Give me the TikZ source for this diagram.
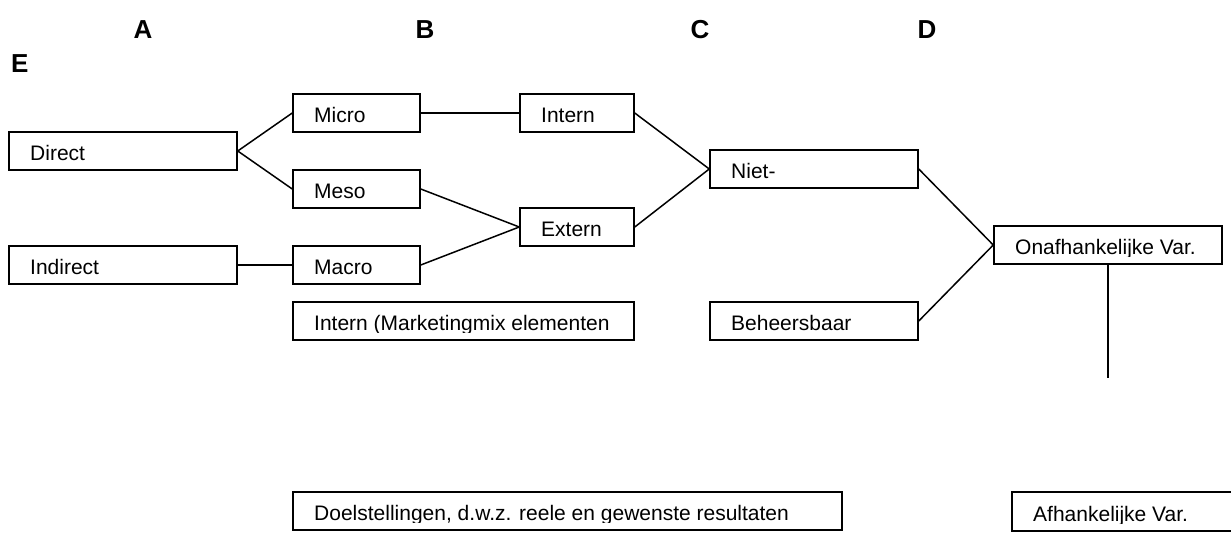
\documentclass[tikz,border=0pt]{standalone}
\usepackage{fontspec}
\setmainfont{Liberation Sans}
\tikzset{
  box/.style={draw, line width=1.5pt, rectangle, inner sep=0pt},
  lbl/.style={anchor=base west, inner sep=0pt, font=\fontsize{21}{25}\selectfont},
  ttl/.style={anchor=base, inner sep=0pt, font=\fontsize{26}{30}\selectfont\bfseries},
  con/.style={line width=1.5pt}
}
\newcommand\bx[6]{%
  \node[box, minimum width={#4-#2}, minimum height={#5-#3}] (#1) at ({(#2+#4)/2},{(#3+#5)/2}) {};
  \begin{scope}
    \clip (#2,#3) rectangle (#4,#5-8);
    \node[lbl] (#1-t) at (#2+21,#5-9.5) {#6};
  \end{scope}%
}
\begin{document}
\begin{tikzpicture}[x=1pt,y=-1pt]
\useasboundingbox (0,0) rectangle (1231,538);
% column letters
\node[ttl] (tA) at (143,38) {A};
\node[ttl] (tB) at (425,38) {B};
\node[ttl] (tC) at (700,38) {C};
\node[ttl] (tD) at (927,38) {D};
\node[ttl, anchor=base west] (tE) at (11,72) {E};
% boxes
\bx{direct}{9}{132}{237}{170}{Direct}
\bx{indirect}{9}{246}{237}{284}{Indirect}
\bx{micro}{293}{94}{420}{132}{Micro}
\bx{meso}{293}{170}{420}{208}{Meso}
\bx{macro}{293}{246}{420}{284}{Macro}
\bx{intern}{520}{94}{634}{132}{Intern}
\bx{extern}{520}{208}{634}{246}{Extern}
\bx{mix}{293}{302}{634}{340}{Intern (Marketingmix elementen}
\bx{niet}{710}{150}{918}{188}{Niet-}
\bx{beh}{710}{302}{918}{340}{Beheersbaar}
\bx{onaf}{994}{226}{1222}{264}{Onafhankelijke Var.}
\bx{doel}{293}{492}{842}{530}{Doelstellingen, d.w.z. reele en gewenste resultaten}
\bx{afh}{1012}{492}{1245}{531}{Afhankelijke Var.}
% connectors
\draw[con] (direct.east) -- (micro.west);
\draw[con] (direct.east) -- (meso.west);
\draw[con] (indirect.east) -- (macro.west);
\draw[con] (micro.east) -- (intern.west);
\draw[con] (meso.east) -- (extern.west);
\draw[con] (macro.east) -- (extern.west);
\draw[con] (intern.east) -- (niet.west);
\draw[con] (extern.east) -- (niet.west);
\draw[con] (niet.east) -- (onaf.west);
\draw[con] (beh.east) -- (onaf.west);
\coordinate (vend) at (1108,378);
\draw[con] (onaf.south) -- (vend);
\end{tikzpicture}
\end{document}
